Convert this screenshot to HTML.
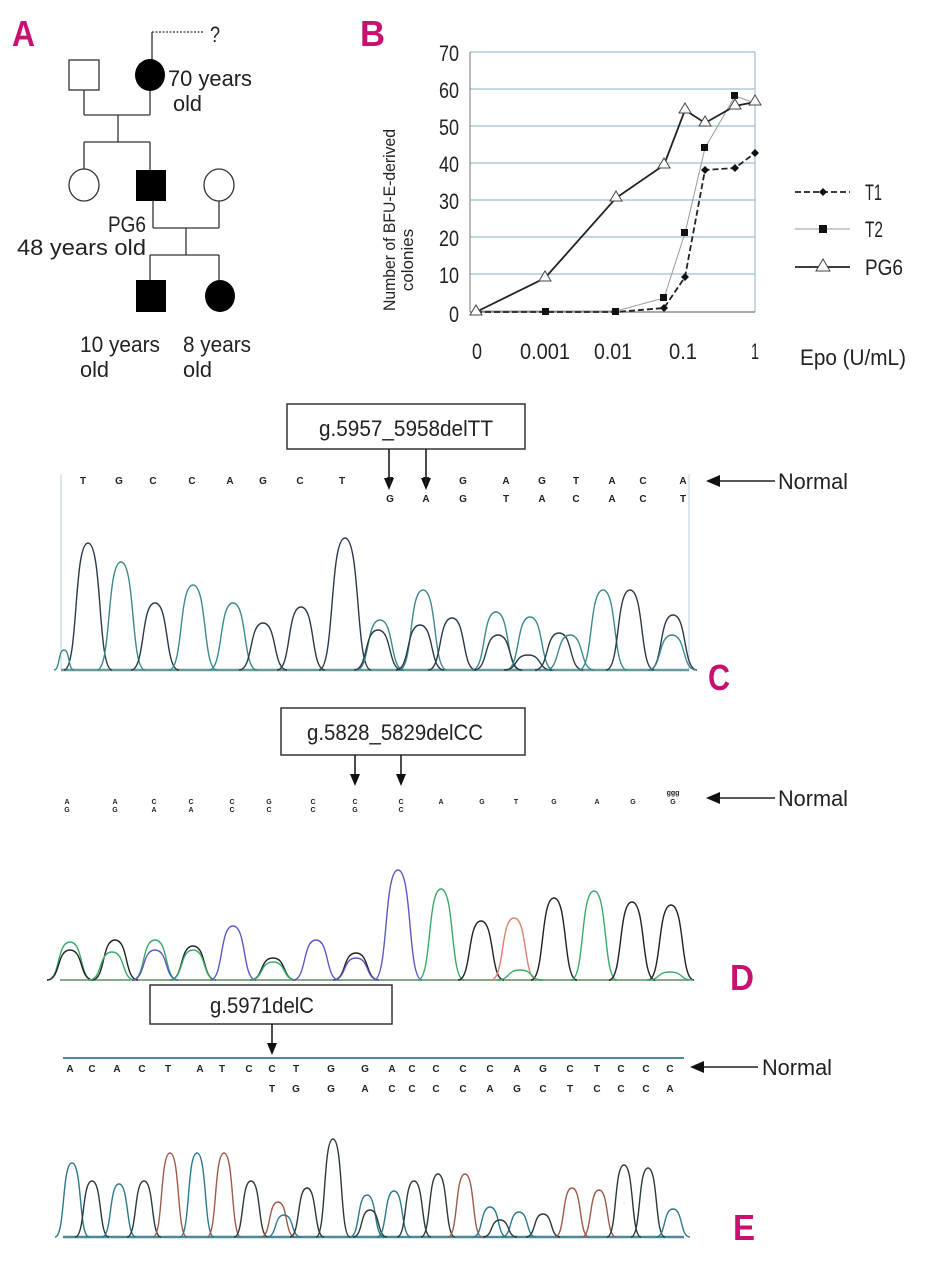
<!DOCTYPE html>
<html><head><meta charset="utf-8"><style>
html,body{margin:0;padding:0;background:#fff;width:929px;height:1280px;overflow:hidden}
svg{display:block}
text{font-family:"Liberation Sans",sans-serif;fill:#222}
.lab{font-family:"Liberation Sans",sans-serif;font-weight:bold;fill:#c8106e;font-size:36px}
.t{font-size:22px}
.s{font-size:10px;font-family:"Liberation Sans",sans-serif;font-weight:bold}
</style></head><body>
<svg id="s" width="929" height="1280" viewBox="0 0 929 1280" xmlns="http://www.w3.org/2000/svg">
<!-- Panel A -->
<text class="lab" x="12" y="46" textLength="23" lengthAdjust="spacingAndGlyphs">A</text>
<g stroke="#333" stroke-width="1.3" fill="none">
<line x1="152" y1="32" x2="152" y2="62"/>
<line x1="152" y1="32" x2="204" y2="32" stroke-dasharray="2,1.5"/>
<rect x="69" y="60" width="30" height="30" fill="#fff"/>
<line x1="84" y1="90" x2="84" y2="115"/><line x1="150" y1="90" x2="150" y2="115"/>
<line x1="84" y1="115" x2="150" y2="115"/><line x1="118" y1="115" x2="118" y2="142"/>
<line x1="84" y1="142" x2="150" y2="142"/><line x1="84" y1="142" x2="84" y2="170"/><line x1="150" y1="142" x2="150" y2="170"/>
<ellipse cx="84" cy="185" rx="15" ry="16" fill="#fff"/>
<ellipse cx="219" cy="185" rx="15" ry="16" fill="#fff"/>
<line x1="153" y1="200" x2="153" y2="228"/><line x1="153" y1="228" x2="219" y2="228"/><line x1="219" y1="201" x2="219" y2="228"/>
<line x1="186" y1="228" x2="186" y2="255"/><line x1="150" y1="255" x2="219" y2="255"/>
<line x1="150" y1="255" x2="150" y2="280"/><line x1="219" y1="255" x2="219" y2="280"/>
</g>
<ellipse cx="150" cy="75" rx="15" ry="16" fill="#000"/>
<rect x="136" y="170" width="30" height="31" fill="#000"/>
<rect x="136" y="280" width="30" height="32" fill="#000"/>
<ellipse cx="220" cy="296" rx="15" ry="16" fill="#000"/>
<text class="t" x="210" y="42" textLength="10" lengthAdjust="spacingAndGlyphs">?</text>
<text class="t" x="168" y="86" textLength="84" lengthAdjust="spacingAndGlyphs">70 years</text>
<text class="t" x="173" y="111" textLength="29" lengthAdjust="spacingAndGlyphs">old</text>
<text class="t" x="108" y="232" textLength="38" lengthAdjust="spacingAndGlyphs">PG6</text>
<text class="t" x="17" y="255" textLength="129" lengthAdjust="spacingAndGlyphs">48 years old</text>
<text class="t" x="80" y="352" textLength="80" lengthAdjust="spacingAndGlyphs">10 years</text><text class="t" x="80" y="377" textLength="29" lengthAdjust="spacingAndGlyphs">old</text>
<text class="t" x="183" y="352" textLength="68" lengthAdjust="spacingAndGlyphs">8 years</text><text class="t" x="183" y="377" textLength="29" lengthAdjust="spacingAndGlyphs">old</text>
<!-- Panel B -->
<text class="lab" x="360" y="46" textLength="25" lengthAdjust="spacingAndGlyphs">B</text>
<g stroke="#9cc0d0" stroke-width="1.2">
<line x1="470" y1="52" x2="755" y2="52"/><line x1="470" y1="89" x2="755" y2="89"/><line x1="470" y1="126" x2="755" y2="126"/><line x1="470" y1="163" x2="755" y2="163"/><line x1="470" y1="200" x2="755" y2="200"/><line x1="470" y1="237" x2="755" y2="237"/><line x1="470" y1="274" x2="755" y2="274"/>
<line x1="755" y1="52" x2="755" y2="312"/>
</g>
<line x1="470" y1="52" x2="470" y2="312" stroke="#777" stroke-width="1"/>
<line x1="470" y1="312" x2="755" y2="312" stroke="#777" stroke-width="1.2"/>
<g class="t" text-anchor="end">
<text x="459" y="61" textLength="20" lengthAdjust="spacingAndGlyphs">70</text><text x="459" y="98" textLength="20" lengthAdjust="spacingAndGlyphs">60</text><text x="459" y="135" textLength="20" lengthAdjust="spacingAndGlyphs">50</text><text x="459" y="172" textLength="20" lengthAdjust="spacingAndGlyphs">40</text><text x="459" y="209" textLength="20" lengthAdjust="spacingAndGlyphs">30</text><text x="459" y="246" textLength="20" lengthAdjust="spacingAndGlyphs">20</text><text x="459" y="283" textLength="20" lengthAdjust="spacingAndGlyphs">10</text><text x="459" y="322" textLength="10" lengthAdjust="spacingAndGlyphs">0</text></g>
<g class="t" text-anchor="middle">
<text x="477" y="359" textLength="10" lengthAdjust="spacingAndGlyphs">0</text><text x="545" y="359" textLength="50" lengthAdjust="spacingAndGlyphs">0.001</text><text x="613" y="359" textLength="38" lengthAdjust="spacingAndGlyphs">0.01</text><text x="683" y="359" textLength="28" lengthAdjust="spacingAndGlyphs">0.1</text><text x="755" y="359" textLength="8" lengthAdjust="spacingAndGlyphs">1</text></g>
<text class="t" x="800" y="365" textLength="106" lengthAdjust="spacingAndGlyphs">Epo (U/mL)</text>
<text transform="translate(395,220) rotate(-90)" text-anchor="middle" style="font-size:17px" textLength="182" lengthAdjust="spacingAndGlyphs">Number of BFU-E-derived</text>
<text transform="translate(413,260) rotate(-90)" text-anchor="middle" style="font-size:17px">colonies</text>
<polyline fill="none" stroke="#999" stroke-width="1" points="476,311 545,311 616,311 664,298 685,233 705,148 735,96 755,103"/>
<polyline fill="none" stroke="#222" stroke-width="1.8" stroke-dasharray="6,3" points="476,312 545,312 616,312 664,308 685,277 705,170 735,168 755,153"/>
<polyline fill="none" stroke="#222" stroke-width="1.8" points="476,312 545,278 616,198 664,165 685,110 705,123 735,106 755,102"/>
<g fill="#111"><rect x="542" y="308" width="7" height="7"/><rect x="612" y="308" width="7" height="7"/><rect x="660" y="294" width="7" height="7"/><rect x="681" y="229" width="7" height="7"/><rect x="701" y="144" width="7" height="7"/><rect x="731" y="92" width="7" height="7"/>
<path d="M685,273 l4,4 -4,4 -4,-4z"/><path d="M705,166 l4,4 -4,4 -4,-4z"/><path d="M735,164 l4,4 -4,4 -4,-4z"/><path d="M755,149 l4,4 -4,4 -4,-4z"/><path d="M664,304 l4,4 -4,4 -4,-4z"/></g>
<g fill="#fff" stroke="#444" stroke-width="1"><path d="M476,305 l6,10 h-12z"/><path d="M545,271 l6,10 h-12z"/><path d="M616,191 l6,10 h-12z"/><path d="M664,158 l6,10 h-12z"/><path d="M685,103 l6,10 h-12z"/><path d="M705,116 l6,10 h-12z"/><path d="M735,99 l6,10 h-12z"/><path d="M755,95 l6,10 h-12z"/></g>
<line x1="795" y1="192" x2="850" y2="192" stroke="#222" stroke-width="1.8" stroke-dasharray="6,3"/><path d="M823,188 l4,4 -4,4 -4,-4z" fill="#111"/>
<text class="t" x="865" y="200" textLength="17" lengthAdjust="spacingAndGlyphs">T1</text>
<line x1="795" y1="229" x2="850" y2="229" stroke="#999"/><rect x="819" y="225" width="8" height="8" fill="#111"/>
<text class="t" x="865" y="237" textLength="18" lengthAdjust="spacingAndGlyphs">T2</text>
<line x1="795" y1="267" x2="850" y2="267" stroke="#222" stroke-width="1.8"/><path d="M823,259 l7,12 h-14z" fill="#fff" stroke="#444"/>
<text class="t" x="865" y="275" textLength="38" lengthAdjust="spacingAndGlyphs">PG6</text>
<!-- Panel C -->
<rect x="287" y="404" width="238" height="45" fill="#fff" stroke="#333" stroke-width="1.5"/>
<text class="t" x="406" y="436" text-anchor="middle" textLength="174" lengthAdjust="spacingAndGlyphs">g.5957_5958delTT</text>
<g stroke="#111" stroke-width="1.5"><line x1="389" y1="449" x2="389" y2="480"/><line x1="426" y1="449" x2="426" y2="480"/></g>
<g fill="#111"><path d="M384,478 h10 l-5,12z"/><path d="M421,478 h10 l-5,12z"/></g>
<line x1="61" y1="474" x2="61" y2="670" stroke="#bcd" /><line x1="689" y1="474" x2="689" y2="670" stroke="#bcd"/>
<g id="cseq" class="s" text-anchor="middle"></g>
<line x1="61" y1="670" x2="689" y2="670" stroke="#6a9a9a" stroke-width="2.5"/>
<g id="cpk" fill="none" stroke-width="1.4"></g>
<line x1="775" y1="481" x2="712" y2="481" stroke="#222" stroke-width="1.5"/><path d="M706,481 l14,-6 v12z" fill="#111"/>
<text class="t" x="778" y="489" textLength="70" lengthAdjust="spacingAndGlyphs">Normal</text>
<text class="lab" x="708" y="690" textLength="22" lengthAdjust="spacingAndGlyphs">C</text>
<!-- Panel D -->
<rect x="281" y="708" width="244" height="47" fill="#fff" stroke="#333" stroke-width="1.5"/>
<text class="t" x="395" y="740" text-anchor="middle" textLength="176" lengthAdjust="spacingAndGlyphs">g.5828_5829delCC</text>
<g stroke="#111" stroke-width="1.5"><line x1="355" y1="755" x2="355" y2="776"/><line x1="401" y1="755" x2="401" y2="776"/></g>
<g fill="#111"><path d="M350,774 h10 l-5,12z"/><path d="M396,774 h10 l-5,12z"/></g>
<g id="dseq" style="font-family:'Liberation Sans',sans-serif;font-size:7px;font-weight:bold" text-anchor="middle"></g>
<line x1="60" y1="980" x2="689" y2="980" stroke="#8a8" stroke-width="2"/>
<g id="dpk" fill="none" stroke-width="1.4"></g>
<line x1="775" y1="798" x2="712" y2="798" stroke="#222" stroke-width="1.5"/><path d="M706,798 l14,-6 v12z" fill="#111"/>
<text class="t" x="778" y="806" textLength="70" lengthAdjust="spacingAndGlyphs">Normal</text>
<text class="lab" x="730" y="990" textLength="24" lengthAdjust="spacingAndGlyphs">D</text>
<!-- Panel E -->
<rect x="150" y="985" width="242" height="39" fill="#fff" stroke="#333" stroke-width="1.5"/>
<text class="t" x="262" y="1013" text-anchor="middle" textLength="104" lengthAdjust="spacingAndGlyphs">g.5971delC</text>
<line x1="272" y1="1024" x2="272" y2="1044" stroke="#111" stroke-width="1.5"/><path d="M267,1043 h10 l-5,12z" fill="#111"/>
<line x1="63" y1="1058" x2="684" y2="1058" stroke="#4a8a9a" stroke-width="2"/>
<g id="eseq" class="s" text-anchor="middle"></g>
<line x1="63" y1="1237" x2="684" y2="1237" stroke="#4a8a9a" stroke-width="2.5"/>
<g id="epk" fill="none" stroke-width="1.4"></g>
<line x1="758" y1="1067" x2="696" y2="1067" stroke="#222" stroke-width="1.5"/><path d="M690,1067 l14,-6 v12z" fill="#111"/>
<text class="t" x="762" y="1075" textLength="70" lengthAdjust="spacingAndGlyphs">Normal</text>
<text class="lab" x="733" y="1240" textLength="22" lengthAdjust="spacingAndGlyphs">E</text>
</svg>
<script>
var NS="http://www.w3.org/2000/svg";
function el(g,tag,a,txt){var e=document.createElementNS(NS,tag);for(var k in a)e.setAttribute(k,a[k]);if(txt)e.textContent=txt;document.getElementById(g).appendChild(e);}
var col={A:"#2a9a5a",C:"#2a7ac0",G:"#333",T:"#c05050"};
var cx=[83,119,153,192,230,263,300,342,390,426,463,506,542,576,612,643,683];
var ct="TGCCAGCTTTGAGTACA";
for(var i=0;i<cx.length;i++)el("cseq","text",{x:cx[i],y:484,fill:"#777"},ct[i]);
var cb="GAGTACACT";for(i=0;i<cb.length;i++)el("cseq","text",{x:cx[i+8],y:502,fill:"#777"},cb[i]);
function pk(g,base,list,w){list.forEach(function(p){var x=p[0],t=p[1],c=p[2],ww=p[3]||w;
el(g,"path",{d:"M"+(x-ww)+","+base+" C"+(x-ww*0.4)+","+base+" "+(x-ww*0.6)+","+t+" "+x+","+t+" C"+(x+ww*0.6)+","+t+" "+(x+ww*0.4)+","+base+" "+(x+ww)+","+base,stroke:c});});}
var tl="#3a8a8a",dk="#2a3a4a";
pk("cpk",670,[[88,543,dk],[121,562,tl],[155,603,dk],[193,585,tl],[233,603,tl],[263,623,dk],[301,607,dk],[345,538,dk,26],[380,620,tl],[378,630,dk],[423,590,tl],[420,625,dk],[452,618,dk],[496,612,tl],[498,635,dk],[530,617,tl],[528,655,dk],[559,633,dk],[570,635,tl],[603,590,tl],[630,590,dk],[673,615,dk],[672,635,tl],[64,650,tl,10]],24);
var dx=[67,115,154,191,232,269,313,355,401,441,482,516,554,597,633,673];
var dt="AACCCGCCCAGTGAGG";
for(i=0;i<dx.length;i++)el("dseq","text",{x:dx[i],y:804,fill:col[dt[i]]},dt[i]);
var db="GGAACCCGC";for(i=0;i<db.length;i++)el("dseq","text",{x:dx[i],y:812,fill:col[db[i]]},db[i]);
el("dseq","text",{x:673,y:795,fill:"#666"},"ggg");
var bl="#5a5ac0",gn="#3aaa6a",bk="#222",rd="#e08070";
pk("dpk",980,[[70,942,gn],[70,950,bk],[115,940,bk],[112,952,gn],[155,940,gn],[155,950,bl],[193,946,bk],[193,950,gn],[233,926,bl],[273,958,bk],[273,962,gn],[316,940,bl],[356,953,bk],[356,958,bl],[398,870,bl,24],[441,889,gn],[481,921,bk],[514,918,rd],[554,898,bk],[594,891,gn],[632,902,bk],[671,905,bk],[520,970,gn],[670,972,gn]],23);
var ex=[70,92,117,142,168,200,222,249,272,296,331,365,392,412,436,463,490,517,543,570,597,621,646,670];
var et="ACACTATCCTGGACCCCAGCTCCC";
for(i=0;i<et.length;i++)el("eseq","text",{x:ex[i],y:1072,fill:col[et[i]]},et[i]);
var eb="TGGACCCCAGCTCCCA";for(i=0;i<eb.length;i++)el("eseq","text",{x:ex[i+8],y:1092,fill:"#555"},eb[i]);
var e1="#2a7a8a",e2="#a05a4a",e3="#2a3a3a";
pk("epk",1237,[[72,1163,e1],[92,1181,e3],[119,1184,e1],[144,1181,e3],[170,1153,e2],[197,1153,e1],[224,1153,e2],[251,1181,e3],[278,1202,e2],[284,1215,e1],[307,1188,e3],[333,1139,e3],[367,1195,e1],[370,1210,e3],[394,1191,e1],[414,1181,e3],[438,1174,e3],[465,1174,e2],[490,1207,e1],[519,1212,e1],[543,1214,e3],[572,1188,e2],[599,1190,e2],[624,1165,e3],[648,1168,e3],[673,1209,e1],[500,1220,e3]],17);
</script>
</body></html>
